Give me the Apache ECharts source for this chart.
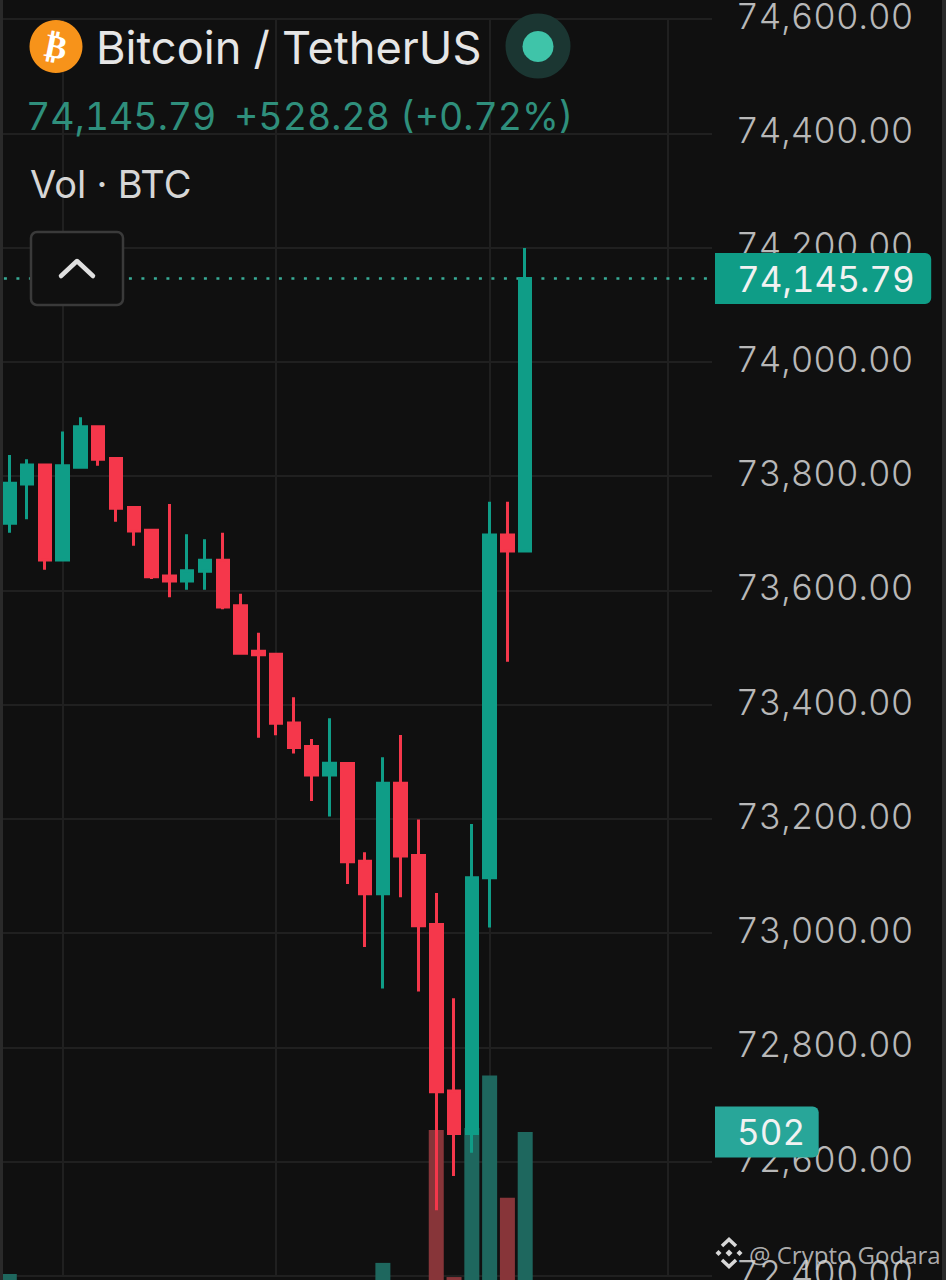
<!DOCTYPE html>
<html><head><meta charset="utf-8">
<style>html,body{margin:0;padding:0;background:#101010}#c{width:946px;height:1280px}
svg text{font-variant-numeric:tabular-nums !important;font-feature-settings:"tnum" 1 !important}</style>
<script src="https://cdn.jsdelivr.net/npm/echarts@6/dist/echarts.min.js"></script>
</head><body><div id="c"></div>
<script>
const categories = ['1','2','3','4','5','6','7','8','9','10','11','12','13','14','15','16','17','18','19','20','21','22','23','24','25','26','27','28','29','30','31','32','33','34','35','36','37','38','39','40'];
// open, close, low, high
const candleValues = [
 [73717.5,73787.5,73701,73837],[73786,73819.5,73724.5,73829.5],[73819.5,73653,73636,73819.5],[73653,73818,73651,73878],
 [73815.5,73886.5,73815,73903],[73886.5,73829.5,73818,73886.5],[73831,73743.7,73720,73831],[73745,73704,73678,73745],
 [73705,73624,73620,73705],[73625,73616.5,73588,73751],[73616.5,73634.5,73601,73698],[73633.5,73652.7,73601,73689.5],
 [73652.7,73571,73567,73701],[73573,73490,73488,73594],[73493.5,73487.5,73342,73526],[73488,73367.5,73346.5,73488],
 [73368,73325,73314.6,73413],[73326.7,73277,73231.5,73340],[73277,73297.5,73204,73376],[73297,73125,73086,73297],
 [73126,73069,72976,73141.5],[73069,73262.6,72903,73308],[73262.6,73135,73063,73347],[73136,73013,72898,73199],
 [73015,72722.6,72515,73070.5],[72724,72649.4,72575,72886],[72649.4,73097,72615.5,73191],[73097,73697,73010,73755],
 [73697,73669,73475,73755],[73669,74145.79,73669,74199]
];
const volumeValues = [20,0,0,0,0,0,0,0,0,0,0,0,0,0,0,0,0,0,0,0,0,58,0,0,508,10,515,693,279,502];
const volumeUp = [1,1,0,1,1,0,0,0,0,0,1,1,0,0,0,0,0,0,1,0,0,1,0,0,0,0,1,1,0,1];
const verticalGrid = [3.5,15.5,27.5,37.5];
const lastPrice = 74145.79, lastVolume = 502;

const C={bg:'#101010',grid:'#202020',up:'#0f9d87',down:'#f5374b',volUp:'#1e675e',volDown:'#873539',label:'#b8b8b8'};
const chart = echarts.init(document.getElementById('c'),null,{renderer:'svg'});
const F='Inter';
function diamond(cx,cy,r){return {type:'polygon',shape:{points:[[cx,cy-r],[cx+r,cy],[cx,cy+r],[cx-r,cy]]},style:{fill:'#d8d8d8'},z:50};}
function chevron(pts){return {type:'polyline',shape:{points:pts},style:{fill:null,stroke:'#d8d8d8',lineWidth:3.5},z:50};}
const G={left:0.4,right:234,outerBoundsMode:'none'};
chart.setOption({
 animation:false, backgroundColor:C.bg,
 grid:[
  {...G,top:19,bottom:4},
  {...G,top:1000,bottom:0}
 ],
 xAxis:[
  {type:'category',gridIndex:0,data:categories,show:false},
  {type:'category',gridIndex:1,data:categories,show:false},
  {type:'value',gridIndex:0,min:0,max:40,show:false,splitLine:{show:false}},
  {type:'value',gridIndex:1,min:0,max:40,show:false,splitLine:{show:false}}
 ],
 yAxis:[
  {type:'value',gridIndex:0,position:'right',min:72400,max:74600,interval:200,
   axisLine:{show:false},axisTick:{show:false},
   splitLine:{lineStyle:{color:C.grid,width:2}},
   axisLabel:{color:C.label,fontFamily:F,fontSize:35,fontWeight:300,margin:24,verticalAlign:'bottom',lineHeight:6,
     formatter:v=>v.toLocaleString('en-US',{minimumFractionDigits:2,maximumFractionDigits:2}),
     showMinLabel:true,showMaxLabel:true,hideOverlap:false}},
  {type:'value',gridIndex:1,min:0,max:949,show:false,splitLine:{show:false}}
 ],
 series:[
  {type:'line',xAxisIndex:2,yAxisIndex:0,data:[],z:0,silent:true,
   markLine:{symbol:'none',silent:true,animation:false,z:0,label:{show:false},
     lineStyle:{color:C.grid,type:'solid',width:2},
     data:verticalGrid.map(x=>({xAxis:x}))}},
  {type:'bar',xAxisIndex:1,yAxisIndex:1,barWidth:15,z:1,
   data:volumeValues.map((v,i)=>({value:v,itemStyle:{color:volumeUp[i]?C.volUp:C.volDown}}))},
  {type:'candlestick',xAxisIndex:0,yAxisIndex:0,barWidth:12,z:3,data:candleValues,
   itemStyle:{color:C.up,color0:C.down,borderColor:C.up,borderColor0:C.down,borderWidth:3}},
  {type:'line',xAxisIndex:2,yAxisIndex:0,data:[],z:2,silent:true,
   markLine:{symbol:'none',silent:true,animation:false,z:2,
     lineStyle:{color:'#38ab96',type:[3,9.5],dashOffset:9,width:2.5},
     label:{show:true,position:'end',distance:3,formatter:()=>lastPrice.toLocaleString('en-US'),color:'#f2f2f2',fontFamily:F,fontSize:35,fontWeight:400,
       backgroundColor:'#0f9d87',padding:[8,40,8,22],borderRadius:[0,6,6,0]},
     data:[{yAxis:lastPrice}]}},
  {type:'line',xAxisIndex:3,yAxisIndex:1,data:[],z:4,silent:true,
   markLine:{symbol:'none',silent:true,animation:false,z:4,lineStyle:{color:'rgba(0,0,0,0)',width:1},
     label:{show:true,position:'end',distance:3,formatter:'{c}',color:'#f2f2f2',fontFamily:F,fontSize:35,fontWeight:400,
       backgroundColor:'#28a699',padding:[8,17,8,22],borderRadius:[0,6,6,0]},
     data:[{yAxis:lastVolume}]}}
 ],
 graphic:{elements:[
  {type:'rect',shape:{x:0,y:0,width:3,height:1280},style:{fill:'#2a2a2a'},z:40},
  {type:'rect',shape:{x:942,y:0,width:4,height:1280},style:{fill:'#2a2a2a'},z:40},
  {type:'circle',shape:{cx:56,cy:46.5,r:26.5},style:{fill:'#f7931a'},z:50},
  {type:'text',x:56,y:46.5,rotation:-0.2,style:{text:'₿',fill:'#fff',font:'bold 33px "DejaVu Sans"',align:'center',verticalAlign:'middle'},z:51},
  {type:'text',x:96,y:47,style:{text:'Bitcoin / TetherUS',fill:'#e6e6e6',font:'400 45.2px Inter',verticalAlign:'middle'},z:50},
  {type:'circle',shape:{cx:538,cy:46,r:32.5},style:{fill:'#1b3632'},z:50},
  {type:'circle',shape:{cx:538,cy:46.5,r:15.5},style:{fill:'#3fc4a9'},z:51},
  {type:'text',x:26,y:116,style:{text:'74,145.79',fill:'#2f8f7c',font:'400 37.5px Inter',verticalAlign:'middle'},z:50},
  {type:'text',x:234,y:116,style:{text:'+528.28 (+0.72%)',fill:'#2f8f7c',font:'400 37.5px Inter',verticalAlign:'middle'},z:50},
  {type:'text',x:30,y:184,style:{text:'Vol · BTC',fill:'#d6d6d6',font:'400 38px Inter',verticalAlign:'middle'},z:50},
  {type:'rect',shape:{x:31,y:232,width:92,height:73,r:6},style:{fill:C.bg,stroke:'#3a3a3a',lineWidth:2.5},z:50},
  {type:'polyline',shape:{points:[[61,276],[77,261],[93,276]]},style:{fill:null,stroke:'#e0e0e0',lineWidth:4.5,lineCap:'round',lineJoin:'round'},z:51},
  chevron([[722,1246],[729,1239.5],[736,1246]]),chevron([[722,1260],[729,1266.5],[736,1260]]),
  diamond(729,1253,3.5),diamond(718.5,1253,3),diamond(739.5,1253,3),
  {type:'text',x:749,y:1254,style:{text:'@ Crypto Godara',fill:'rgba(215,215,215,0.8)',font:'400 24px "Open Sans"',verticalAlign:'middle'},z:50}
 ]}
});
</script></body></html>
